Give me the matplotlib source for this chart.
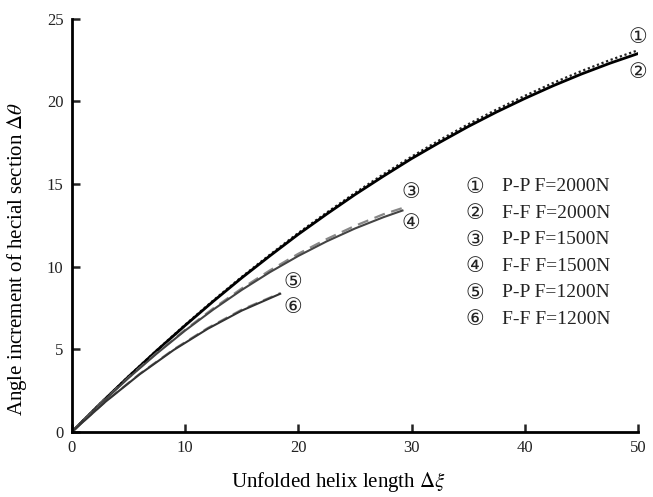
import matplotlib
matplotlib.use("Agg")
import matplotlib.pyplot as plt

plt.rcParams['font.family'] = ['Liberation Serif', 'DejaVu Sans']
plt.rcParams['mathtext.fontset'] = 'stix'

# curves
x_2000 = [0, 2.5, 5, 7.5, 10, 12.5, 15, 17.5, 20, 22.5, 25, 27.5, 30, 32.5, 35, 37.5, 40, 42.5, 45, 47.5, 50]
pp_2000 = [0, 1.71, 3.36, 4.94, 6.48, 7.96, 9.38, 10.73, 12.04, 13.27, 14.46, 15.59, 16.66,
           17.67, 18.62, 19.51, 20.34, 21.12, 21.84, 22.50, 23.10]
ff_2000 = [0, 1.70, 3.34, 4.92, 6.44, 7.91, 9.32, 10.66, 11.96, 13.18, 14.36, 15.47, 16.54,
           17.53, 18.48, 19.36, 20.18, 20.95, 21.66, 22.31, 22.90]

x_1500 = [0, 2.5, 5, 7.5, 10, 12.5, 15, 17.5, 20, 22.5, 25, 27.5, 29.2]
pp_1500 = [0, 1.69, 3.28, 4.78, 6.18, 7.48, 8.68, 9.78, 10.78, 11.67, 12.47, 13.17, 13.55]
ff_1500 = [0, 1.68, 3.26, 4.74, 6.13, 7.41, 8.59, 9.67, 10.65, 11.53, 12.31, 12.99, 13.40]

x_1200 = [0, 3, 6, 9, 12, 15, 18.4]
pp_1200 = [0, 1.85, 3.52, 5.00, 6.29, 7.40, 8.40]
ff_1200 = [0, 1.84, 3.49, 4.96, 6.24, 7.34, 8.36]

marks = ['①', '②', '③', '④', '⑤', '⑥']
names = ['P-P F=2000N', 'F-F F=2000N', 'P-P F=1500N',
         'F-F F=1500N', 'P-P F=1200N', 'F-F F=1200N']

fig = plt.figure(figsize=(6.53, 4.97), dpi=100)
ax = fig.add_axes([0.110, 0.131, 0.867, 0.831])

ax.plot(x_2000, pp_2000, color='#222222', lw=1.6, ls=(0, (1, 1.2)))
ax.plot(x_2000, ff_2000, color='black', lw=2.0)
ax.plot(x_1500, pp_1500, color='#888888', lw=1.6, ls=(0, (5, 3)))
ax.plot(x_1500, ff_1500, color='#444444', lw=1.5)
ax.plot(x_1200, pp_1200, color='#888888', lw=1.5, ls=(0, (5, 3)))
ax.plot(x_1200, ff_1200, color='#333333', lw=1.5)

# labels at curve ends
end_pos = [(50.0, 23.9), (50.0, 21.8), (29.9, 14.5), (29.9, 12.65), (19.5, 9.1), (19.5, 7.55)]
for m, (ex, ey) in zip(marks, end_pos):
    ax.text(ex, ey, m, fontsize=15, ha='center', va='center', color='#222222',
            family='DejaVu Sans')

# legend as text list
leg_y = [14.83, 13.23, 11.62, 10.02, 8.41, 6.81]
for m, n, ly in zip(marks, names, leg_y):
    ax.text(35.6, ly, m, fontsize=15, ha='center', va='center', color='#222222',
            family='DejaVu Sans')
    ax.text(38.0, ly, n, fontsize=14, ha='left', va='center', color='#222222')

ax.set_xlim(0, 50)
ax.set_ylim(0, 25)
ax.set_xticks([0, 10, 20, 30, 40, 50])
ax.set_yticks([0, 5, 10, 15, 20, 25])
ax.spines['top'].set_visible(False)
ax.spines['right'].set_visible(False)
ax.spines['left'].set_linewidth(2)
ax.spines['bottom'].set_linewidth(2)
ax.tick_params(direction='in', length=6, width=1.8, labelsize=12, pad=6, colors='#222222')

ax.set_xlabel(r'Unfolded helix length $\Delta\xi$', fontsize=15)
ax.set_ylabel(r'Angle increment of hecial section $\Delta\theta$', fontsize=15)
ax.xaxis.set_label_coords(0.47, -0.093)
ax.yaxis.set_label_coords(-0.075, 0.42)

fig.savefig('out.png', dpi=100)
